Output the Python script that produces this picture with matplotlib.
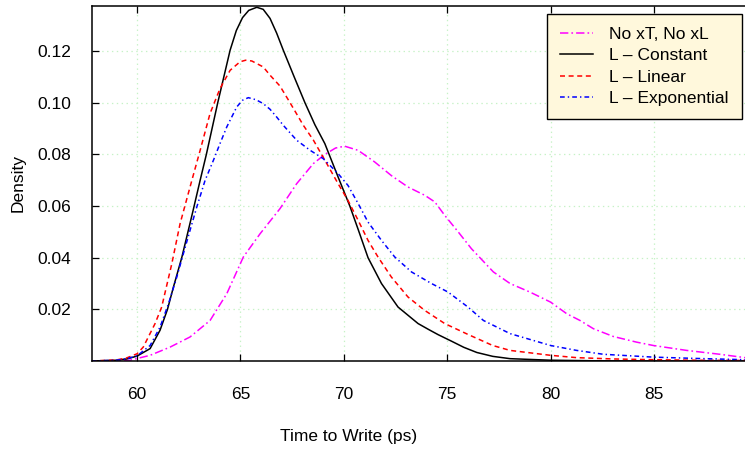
import matplotlib
matplotlib.use("Agg")
import matplotlib.pyplot as plt

# Kernel density estimates of write time, one per leakage model
x_none = [57.8, 59.0, 59.66, 60.63, 61.6, 62.56, 63.53, 64.34, 65.14, 65.95, 66.91, 67.72,
          68.53, 69.08, 69.6, 70.04, 70.69, 71.49, 72.3, 73.1, 73.91, 74.4, 74.88, 75.53,
          76.17, 77.23, 78.04, 79.0, 80.0, 80.78, 81.42, 82.07, 83.03, 84.16, 84.97, 86.58,
          88.19, 89.4]
y_none = [0.0, 0.0001, 0.0003, 0.0022, 0.0054, 0.0093, 0.0157, 0.0261, 0.0403, 0.0493, 0.059,
          0.0687, 0.0765, 0.080, 0.0825, 0.0832, 0.0816, 0.0771, 0.0718, 0.0674, 0.0642, 0.0616,
          0.0564, 0.050, 0.0435, 0.0345, 0.030, 0.0267, 0.0228, 0.0183, 0.0157, 0.0125, 0.0095,
          0.0073, 0.006, 0.0041, 0.0026, 0.0013]

x_const = [57.8, 59.0, 59.5, 60.0, 60.63, 61.11, 61.47, 61.76, 62.16, 62.7, 63.05, 63.35, 63.9,
           64.5, 64.8, 65.1, 65.4, 65.79, 66.1, 66.43, 66.75, 67.07, 67.6, 68.12, 68.6, 69.08,
           69.72, 70.29, 70.69, 71.17, 71.82, 72.62, 73.59, 74.1, 74.56, 75.2, 75.8, 76.43,
           77.2, 78.04, 80.0, 82.0, 85.0, 89.4]
y_const = [0.0, 0.0003, 0.0008, 0.0019, 0.0048, 0.0119, 0.020, 0.0287, 0.040, 0.058, 0.070,
           0.080, 0.100, 0.1204, 0.128, 0.133, 0.1358, 0.137, 0.1362, 0.1327, 0.127, 0.1204,
           0.110, 0.100, 0.0915, 0.0842, 0.0713, 0.060, 0.051, 0.040, 0.030, 0.0209, 0.0145,
           0.0122, 0.0102, 0.0077, 0.0053, 0.0033, 0.0018, 0.0009, 0.0003, 0.0001, 0.0, 0.0]

x_lin = [57.8, 59.0, 59.5, 60.0, 60.3, 60.87, 61.19, 61.68, 62.08, 62.65, 63.05, 63.53, 64.01,
         64.5, 64.98, 65.25, 65.55, 66.1, 66.43, 66.91, 67.4, 68.04, 68.53, 69.08, 69.72, 70.2,
         70.69, 71.17, 71.65, 72.3, 73.1, 73.91, 74.88, 76.0, 77.2, 78.04, 80.0, 81.26, 83.0,
         85.0, 87.0, 89.4]
y_lin = [0.0, 0.0004, 0.0012, 0.0028, 0.0054, 0.0145, 0.0209, 0.0377, 0.0532, 0.070, 0.0816,
         0.0959, 0.1055, 0.1126, 0.1159, 0.1165, 0.1162, 0.1139, 0.1107, 0.1065, 0.100, 0.0913,
         0.0855, 0.0778, 0.0687, 0.0622, 0.0545, 0.0467, 0.0403, 0.0325, 0.0248, 0.0196,
         0.0145, 0.0103, 0.006, 0.0041, 0.0022, 0.0013, 0.0008, 0.0005, 0.0003, 0.0002]

x_exp = [57.8, 59.0, 59.5, 60.0, 60.63, 61.11, 61.52, 61.92, 62.24, 62.56, 62.89, 63.29, 63.69,
         64.01, 64.34, 64.82, 65.1, 65.38, 65.75, 66.1, 66.43, 66.75, 67.07, 67.72, 68.37, 69.0,
         69.72, 70.2, 70.69, 71.17, 71.82, 72.46, 73.27, 74.24, 75.04, 76.0, 76.75, 78.04,
         80.0, 81.26, 82.55, 84.97, 87.0, 89.4]
y_exp = [0.0, 0.0003, 0.0009, 0.002, 0.006, 0.0131, 0.0222, 0.0325, 0.0416, 0.0506, 0.0597,
         0.070, 0.0777, 0.0842, 0.0907, 0.0984, 0.101, 0.102, 0.1012, 0.0997, 0.0975, 0.0945,
         0.0913, 0.0855, 0.0816, 0.0784, 0.0726, 0.068, 0.061, 0.0538, 0.0467, 0.0403, 0.0345,
         0.030, 0.0267, 0.0209, 0.0157, 0.0106, 0.006, 0.0041, 0.0026, 0.0015, 0.001, 0.0005]

labels = ["No xT, No xL", "L \u2013 Constant", "L \u2013 Linear", "L \u2013 Exponential"]
x_ticks = [60, 65, 70, 75, 80, 85]
y_ticks = [0.02, 0.04, 0.06, 0.08, 0.10, 0.12]

plt.rcParams["font.family"] = ["Liberation Sans", "DejaVu Sans"]
plt.rcParams["lines.scale_dashes"] = False
FS = 12.5

W, H = 745, 450
fig = plt.figure(figsize=(W / 100, H / 100), dpi=100)
L, R, T, B = 92, 745, 6, 361
ax = fig.add_axes([L / W, 1 - B / H, (R - L) / W, (B - T) / H])

lw = 1.1
ax.plot(x_none, y_none, color="#ff00ff", lw=lw, linestyle=(0, (6, 2.2, 1.2, 2.2)), label=labels[0])
ax.plot(x_const, y_const, color="black", lw=lw, linestyle="-", label=labels[1])
ax.plot(x_lin, y_lin, color="#ff0000", lw=lw, linestyle=(0, (3.6, 2.6)), label=labels[2])
ax.plot(x_exp, y_exp, color="#0000ff", lw=lw, linestyle=(0, (3.4, 2.2, 1.0, 2.2)), label=labels[3])

ax.set_xlim(57.82, 89.4)
ax.set_ylim(0, 0.1375)
ax.set_xticks(x_ticks)
ax.set_yticks(y_ticks)
ax.set_yticklabels([f"{v:.2f}" for v in y_ticks])

ax.grid(True, color="#c6f2c6", linestyle=(0, (1, 2.5)), linewidth=0.9)
ax.set_axisbelow(True)
ax.tick_params(axis="x", direction="in", top=True, length=5, width=0.9, pad=19, labelsize=FS)
ax.tick_params(axis="y", direction="in", right=False, length=5, width=0.9, pad=15, labelsize=FS)
for side in ("left", "bottom", "top"):
    ax.spines[side].set_linewidth(1.1)
ax.spines["right"].set_visible(False)

fig.text(349 / W, 1 - 437 / H, "Time to Write (ps)", ha="center", va="center", fontsize=FS)
fig.text(18 / W, 1 - 183 / H, "Density", ha="center", va="center", rotation=90, fontsize=FS)

leg = ax.legend(loc="upper right", bbox_to_anchor=(742 / W, 1 - 14 / H),
                bbox_transform=fig.transFigure, borderaxespad=0, fontsize=FS,
                handlelength=1.9, handletextpad=0.95, labelspacing=0.35, borderpad=0.75,
                fancybox=False, framealpha=1, edgecolor="black", facecolor="#fff8dc")
leg.get_frame().set_linewidth(1.0)

fig.savefig("out.png", dpi=100)
